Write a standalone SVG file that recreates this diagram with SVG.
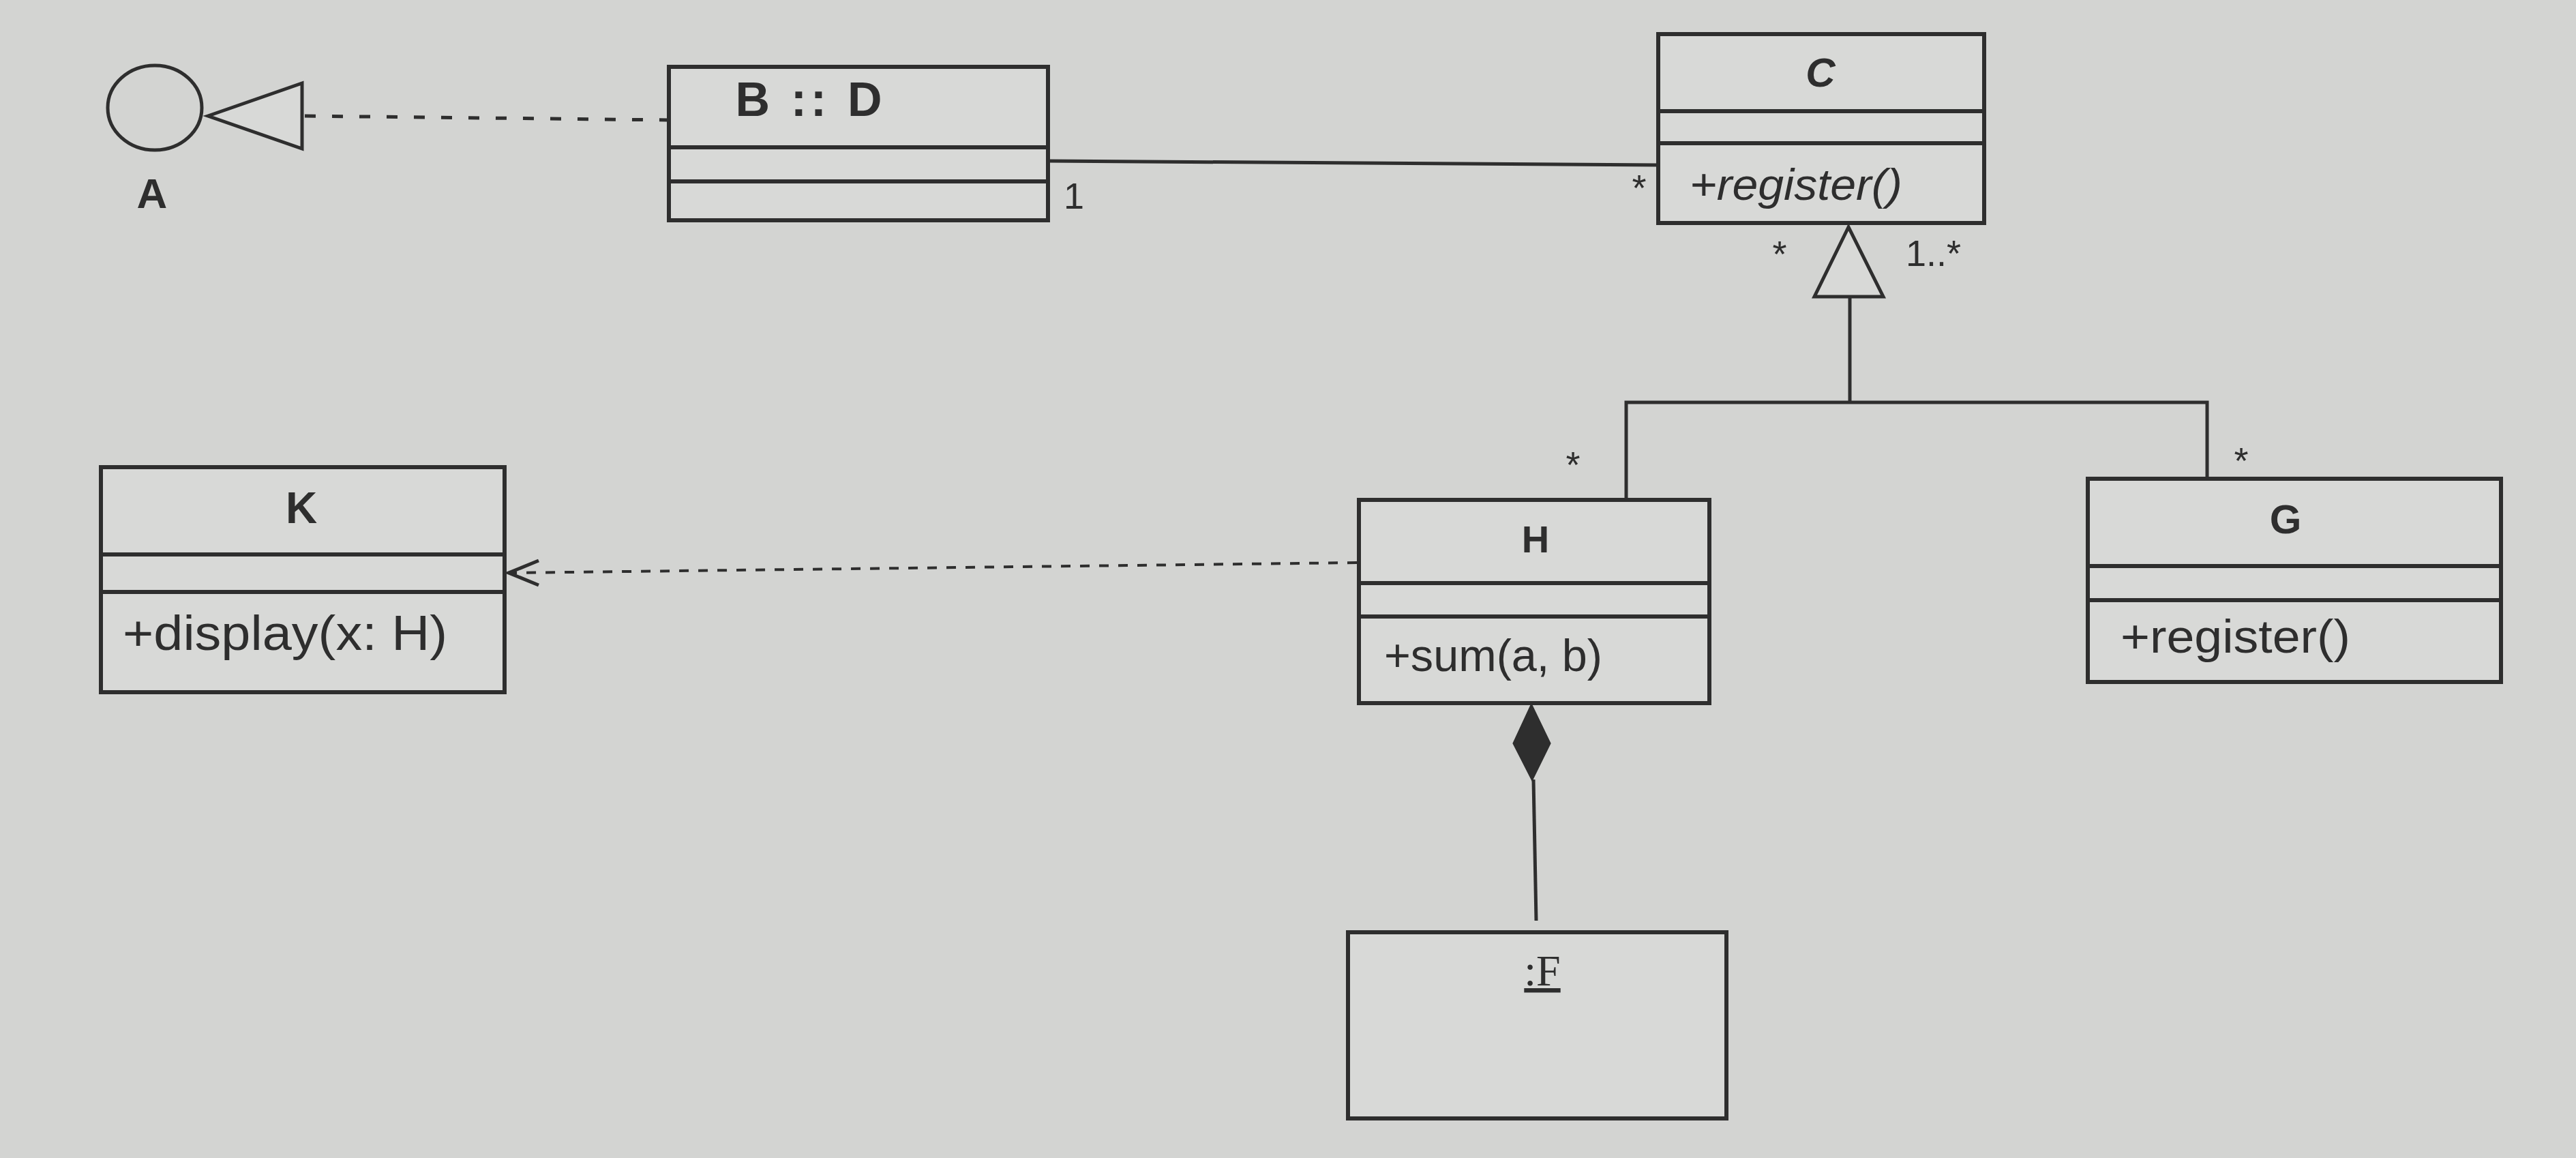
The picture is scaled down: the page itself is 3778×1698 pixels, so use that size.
<svg xmlns="http://www.w3.org/2000/svg" width="3778" height="1698" viewBox="0 0 3778 1698">
<style>
.bg{fill:#d3d4d2}
.box{fill:#d8d9d7;stroke:#2e2e2e;stroke-width:6}
.div{stroke:#2e2e2e;stroke-width:6;fill:none}
.ln{stroke:#2e2e2e;stroke-width:5;fill:none}
.dash{stroke:#2e2e2e;stroke-width:5;fill:none;stroke-dasharray:16 24}
.dash2{stroke:#2e2e2e;stroke-width:4;fill:none;stroke-dasharray:14 14}
.hollow{fill:#d8d9d7;stroke:#2e2e2e;stroke-width:5}
.title{font-family:"Liberation Sans",Arial,sans-serif;font-weight:bold;fill:#2e2e2e;text-anchor:middle}
.op{font-family:"Liberation Sans",Arial,sans-serif;fill:#2e2e2e}
.mult{font-family:"Liberation Sans",Arial,sans-serif;fill:#2e2e2e;font-size:54px}
.obj{font-family:"Liberation Serif","Times New Roman",serif;fill:#2e2e2e;text-anchor:middle;font-size:64px;text-decoration:underline}
</style>
<rect class="bg" x="0" y="0" width="3778" height="1698"/>

<g id="connectors">
  <!-- A interface realization -->
  <line class="dash" x1="447" y1="170" x2="979" y2="176"/>
  <polygon class="hollow" points="305,170 443,122 443,218"/>
  <!-- association B::D - C -->
  <line class="ln" x1="1537" y1="236" x2="2432" y2="242"/>
  <!-- generalization H,G -> C -->
  <polygon class="hollow" points="2711,333 2661,435 2762,435"/>
  <polyline class="ln" points="2713,435 2713,590"/>
  <polyline class="ln" points="2385,733 2385,590 3237,590 3237,702"/>
  <!-- dependency H -> K -->
  <line class="dash2" x1="1990" y1="825" x2="752" y2="840"/>
  <polyline class="ln" points="790,822 746,840 790,858"/>
  <!-- composition H <>- F -->
  <polygon points="2246,1034 2220,1090 2247,1143 2273,1090" fill="#2e2e2e" stroke="#2e2e2e" stroke-width="3"/>
  <line class="ln" x1="2249" y1="1143" x2="2253" y2="1350"/>
  <!-- multiplicities -->
  <text class="mult" x="1560" y="306">1</text>
  <text class="mult" x="2404" y="294" text-anchor="middle">*</text>
  <text class="mult" x="2610" y="391" text-anchor="middle">*</text>
  <text class="mult" x="2795" y="390">1..*</text>
  <text class="mult" x="2307" y="700" text-anchor="middle">*</text>
  <text class="mult" x="3287" y="694" text-anchor="middle">*</text>
</g>

<g id="A">
  <ellipse cx="227" cy="158" rx="69" ry="62" fill="none" stroke="#2e2e2e" stroke-width="5"/>
  <text class="title" x="223" y="305" font-size="62">A</text>
</g>

<g id="BD">
  <rect class="box" x="981" y="98" width="556" height="225"/>
  <line class="div" x1="981" y1="216" x2="1537" y2="216"/>
  <line class="div" x1="981" y1="266" x2="1537" y2="266"/>
  <text class="title" x="1186" y="170" font-size="70" textLength="215" lengthAdjust="spacing">B :: D</text>
</g>

<g id="C">
  <rect class="box" x="2432" y="50" width="478" height="277"/>
  <line class="div" x1="2432" y1="163" x2="2910" y2="163"/>
  <line class="div" x1="2432" y1="210" x2="2910" y2="210"/>
  <text class="title" x="2670" y="127" font-size="60" font-style="italic">C</text>
  <text class="op" x="2478" y="293" font-size="64" font-style="italic" textLength="312" lengthAdjust="spacingAndGlyphs">+register()</text>
</g>

<g id="K">
  <rect class="box" x="148" y="685" width="592" height="330"/>
  <line class="div" x1="148" y1="813" x2="740" y2="813"/>
  <line class="div" x1="148" y1="868" x2="740" y2="868"/>
  <text class="title" x="442" y="767" font-size="64">K</text>
  <text class="op" x="180" y="953" font-size="72" textLength="476" lengthAdjust="spacingAndGlyphs">+display(x: H)</text>
</g>

<g id="H">
  <rect class="box" x="1993" y="733" width="514" height="298"/>
  <line class="div" x1="1993" y1="855" x2="2507" y2="855"/>
  <line class="div" x1="1993" y1="904" x2="2507" y2="904"/>
  <text class="title" x="2252" y="810" font-size="56">H</text>
  <text class="op" x="2030" y="984" font-size="66" textLength="320" lengthAdjust="spacingAndGlyphs">+sum(a, b)</text>
</g>

<g id="G">
  <rect class="box" x="3062" y="702" width="606" height="298"/>
  <line class="div" x1="3062" y1="830" x2="3668" y2="830"/>
  <line class="div" x1="3062" y1="880" x2="3668" y2="880"/>
  <text class="title" x="3352" y="782" font-size="60">G</text>
  <text class="op" x="3110" y="957" font-size="68" textLength="337" lengthAdjust="spacingAndGlyphs">+register()</text>
</g>

<g id="F">
  <rect class="box" x="1977" y="1367" width="555" height="273"/>
  <text class="obj" x="2262" y="1445">:F</text>
</g>
</svg>
